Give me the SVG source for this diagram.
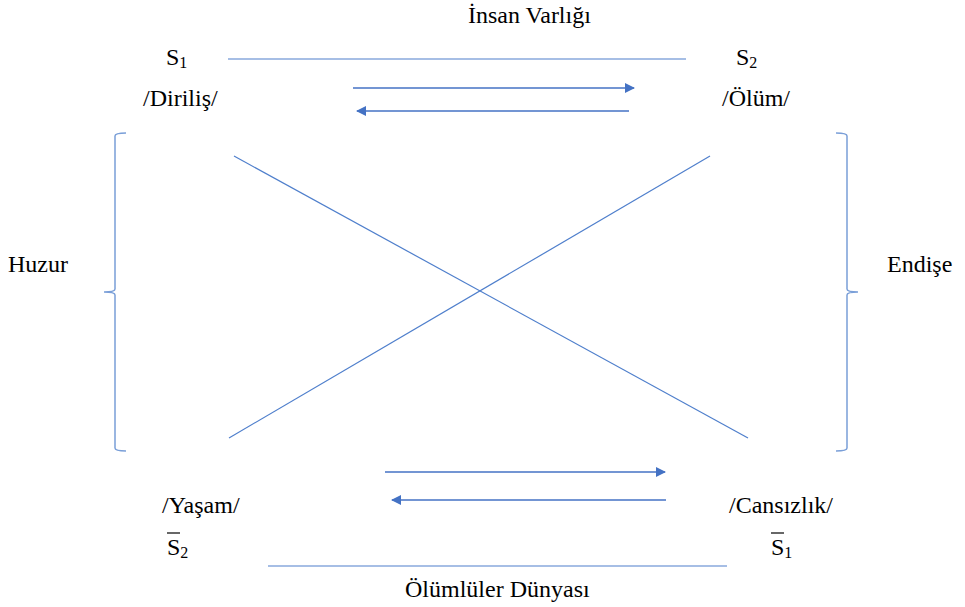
<svg xmlns="http://www.w3.org/2000/svg" width="965" height="607" viewBox="0 0 965 607" font-family="Liberation Serif, Tinos, Times New Roman, DejaVu Serif, serif">
<style>
text{font-family:'Liberation Serif',Tinos,'Times New Roman','DejaVu Serif',serif;font-size:24px;fill:#000}
.sub{font-size:16px}
.ln{stroke:#4f7fcc;stroke-width:1.2;fill:none}
.ar{stroke:#4472C4;stroke-width:1.5;fill:none}
.br{stroke:#7a9fd8;stroke-width:1.5;fill:none}
</style>
<defs>
<marker id="ah" viewBox="0 0 10 10" refX="9" refY="5" markerWidth="12" markerHeight="10" markerUnits="userSpaceOnUse" orient="auto">
<path d="M0,0 L10,5 L0,10 Z" fill="#4472C4"/>
</marker>
</defs>
<g id="connectors">
<line class="ln" x1="228" y1="59" x2="686" y2="59"/>
<line class="ln" x1="268" y1="566" x2="727" y2="566"/>
<line class="ln" x1="234" y1="156" x2="748" y2="438"/>
<line class="ln" x1="710" y1="156" x2="229" y2="438"/>
<line class="ar" x1="353" y1="88" x2="634" y2="88" marker-end="url(#ah)"/>
<line class="ar" x1="629" y1="111" x2="357" y2="111" marker-end="url(#ah)"/>
<line class="ar" x1="385" y1="472" x2="665" y2="472" marker-end="url(#ah)"/>
<line class="ar" x1="666" y1="500" x2="392" y2="500" marker-end="url(#ah)"/>
</g>
<g id="brace-left">
<path class="br" d="M126,133 Q115,133 115,136 L115,289 Q115,292 104,292 Q115,292 115,295 L115,448 Q115,451 126,451"/>
</g>
<g id="brace-right">
<path class="br" d="M836,133 Q847,133 847,136 L847,289 Q847,292 858,292 Q847,292 847,295 L847,448 Q847,451 836,451"/>
</g>
<g id="title-top"><text x="468" y="23">İnsan Varlığı</text></g>
<g id="s1"><text x="166" y="65">S<tspan class="sub" dy="3">1</tspan></text><text x="143" y="106">/Diriliş/</text></g>
<g id="s2"><text x="736" y="65">S<tspan class="sub" dy="3">2</tspan></text><text x="722" y="106">/Ölüm/</text></g>
<g id="huzur"><text x="8" y="272">Huzur</text></g>
<g id="endise"><text x="887" y="272">Endişe</text></g>
<g id="nots2"><text x="162" y="513">/Yaşam/</text><line x1="167" y1="533" x2="180" y2="533" stroke="#000" stroke-width="1.2"/><text x="167" y="555">S<tspan class="sub" dy="3">2</tspan></text></g>
<g id="nots1"><text x="729" y="513">/Cansızlık/</text><line x1="771" y1="533" x2="784" y2="533" stroke="#000" stroke-width="1.2"/><text x="771" y="555">S<tspan class="sub" dy="3">1</tspan></text></g>
<g id="title-bottom"><text x="405" y="597">Ölümlüler Dünyası</text></g>
</svg>
